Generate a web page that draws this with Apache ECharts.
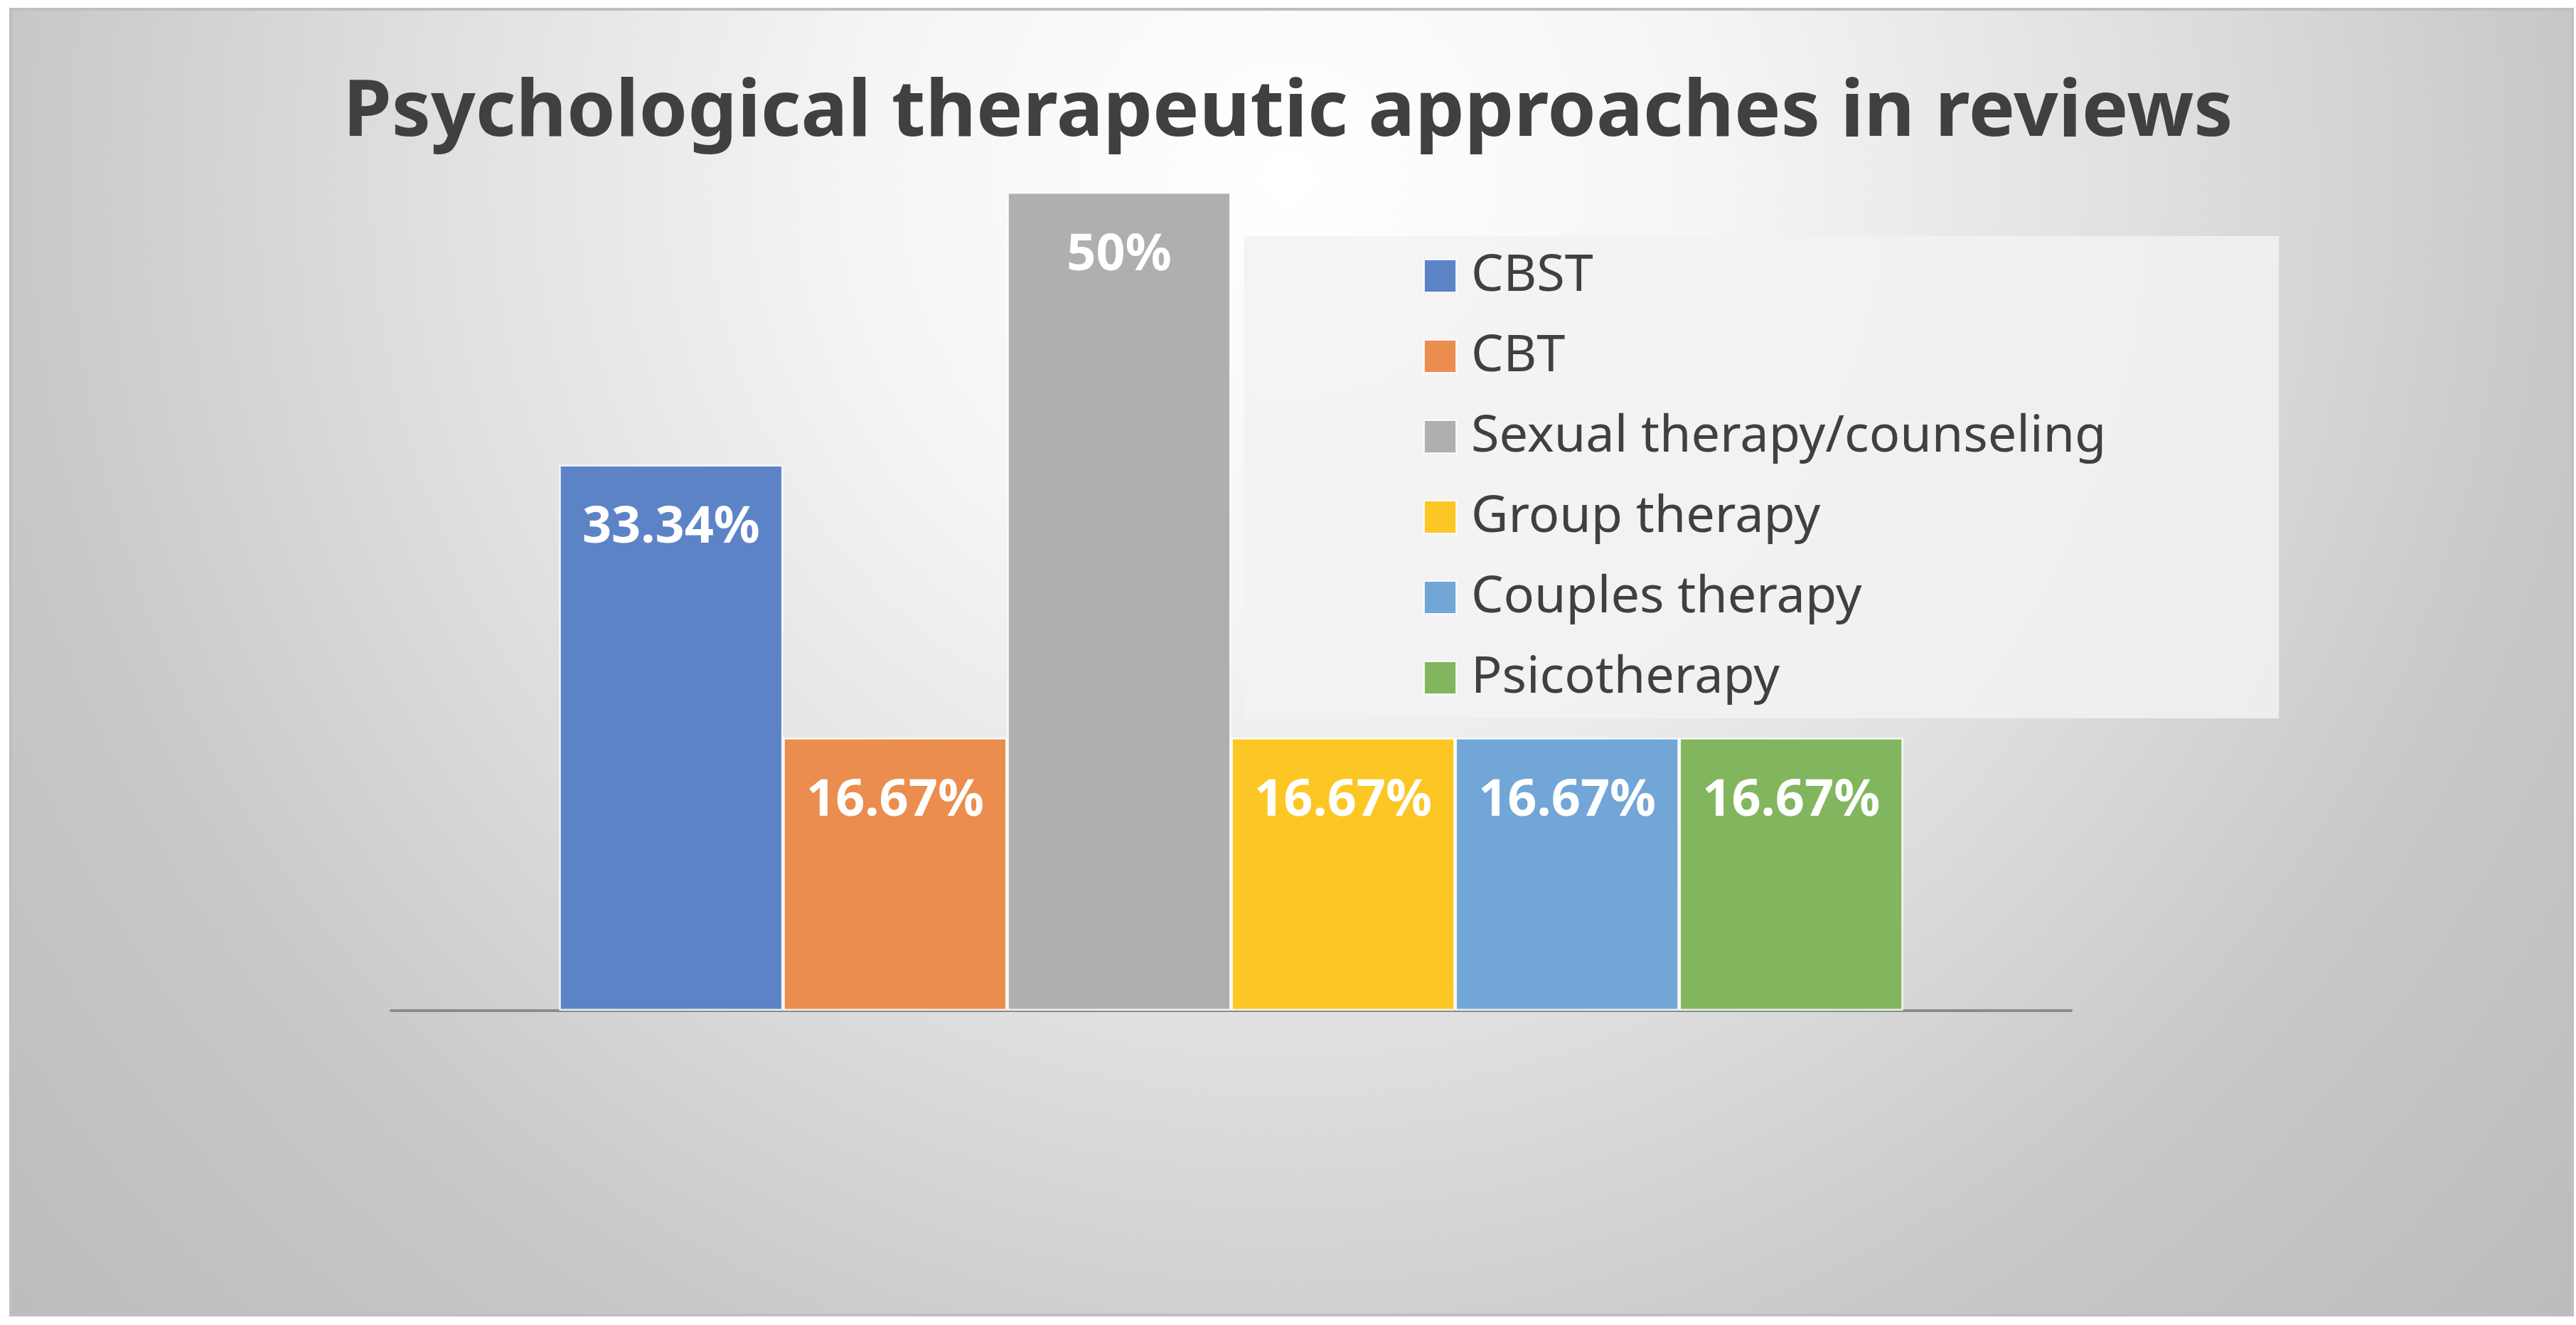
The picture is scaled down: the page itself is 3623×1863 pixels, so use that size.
<!DOCTYPE html>
<meta charset="utf-8">
<style>
html, body { margin: 0; padding: 0; background: #fff; }
#main { width: 3623px; height: 1863px; }
</style>
<div id="main"></div>
<script src="https://cdn.jsdelivr.net/npm/echarts@6/dist/echarts.min.js"></script>
<script>
var approaches = ['CBST', 'CBT', 'Sexual therapy/counseling', 'Group therapy', 'Couples therapy', 'Psicotherapy'];
var shares = [33.34, 16.67, 50, 16.67, 16.67, 16.67];
var palette = ['#5d83c7', '#ea8d4e', '#afafaf', '#fcc624', '#71a6d6', '#82b65e'];

var chart = echarts.init(document.getElementById('main'));

var series = approaches.map(function (name, i) {
    return {
        name: name,
        type: 'bar',
        barGap: '0%',
        barCategoryGap: '20%',
        data: [shares[i]],
        itemStyle: {
            color: palette[i],
            borderColor: 'rgba(255,255,255,0.85)',
            borderWidth: 2.5
        },
        label: {
            show: true,
            position: 'insideTop',
            distance: 53,
            formatter: '{c}%',
            color: '#fff',
            fontFamily: 'Noto Sans',
            fontWeight: 'bold',
            fontSize: 72
        }
    };
});

var option = {
    color: palette,
    animation: false,
    graphic: [{
        type: 'rect',
        z: -10,
        shape: { x: 15, y: 13, width: 3603, height: 1836 },
        style: {
            fill: new echarts.graphic.RadialGradient(1811, 250, 2400, [
                { offset: 0, color: '#ffffff' },
                { offset: 0.25, color: '#f5f5f5' },
                { offset: 0.5, color: '#e0e0e0' },
                { offset: 0.75, color: '#c8c8c8' },
                { offset: 1, color: '#bcbcbc' }
            ], true),
            stroke: '#bfbfbf',
            lineWidth: 4
        }
    }],
    title: {
        text: 'Psychological therapeutic approaches in reviews',
        left: 'center',
        top: 105,
        padding: 0,
        textStyle: {
            fontFamily: 'Noto Sans',
            fontWeight: 'bold',
            fontSize: 110,
            color: '#404040'
        }
    },
    legend: {
        orient: 'vertical',
        left: 1749,
        top: 332,
        padding: [20, 243, 21, 253],
        backgroundColor: 'rgba(242,242,242,0.85)',
        icon: 'rect',
        itemWidth: 45,
        itemHeight: 46,
        itemGap: 41,
        textStyle: {
            fontFamily: 'Noto Sans',
            fontSize: 72,
            color: '#404040',
            padding: [0, 0, 0, 16]
        },
        data: approaches
    },
    grid: {
        left: 550,
        right: 710,
        top: 270,
        bottom: 442
    },
    xAxis: {
        type: 'category',
        data: [''],
        axisTick: { show: false },
        axisLabel: { show: false },
        axisLine: { lineStyle: { color: '#8c8c8c', width: 4 } }
    },
    yAxis: {
        type: 'value',
        min: 0,
        max: 50,
        show: false,
        splitLine: { show: false }
    },
    series: series
};

chart.setOption(option);
</script>
